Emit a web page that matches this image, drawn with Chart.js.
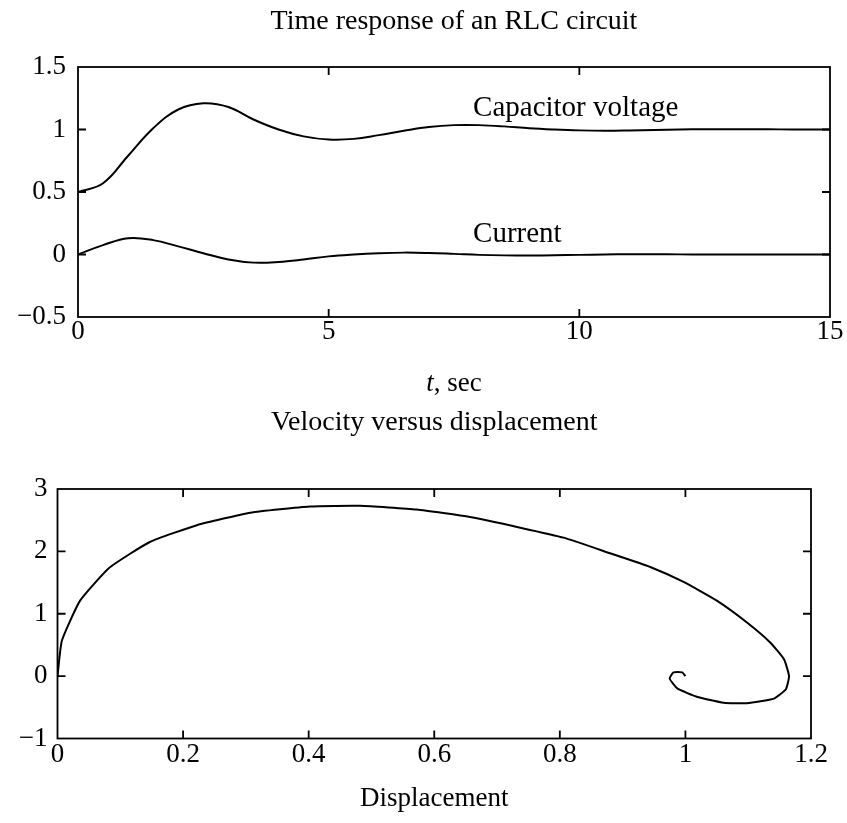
<!DOCTYPE html>
<html lang="en">
<head>
  <meta charset="UTF-8" />
  <title>RLC circuit - time response and phase plane</title>
  <script src="https://cdn.jsdelivr.net/npm/chart.js"></script>
  <style>
    * { box-sizing: border-box; margin: 0; padding: 0; }
    body { width: 847px; height: 823px; background: #fff; position: relative; overflow: hidden; }
    .panel { position: absolute; left: 0; width: 847px; }
    #topPanel { top: 0; height: 400px; }
    #bottomPanel { top: 400px; height: 423px; }
  </style>
</head>
<body>

<div class="panel" id="topPanel"><canvas id="rlcChart"></canvas></div>
<div class="panel" id="bottomPanel"><canvas id="phaseChart"></canvas></div>

<script>
  // top panel: time response, every 0.5 s
  const timeSec = [0, 0.5, 1, 1.5, 2, 2.5, 3, 3.5, 4, 4.5, 5, 5.5, 6, 6.5, 7, 7.5,
                   8, 8.5, 9, 9.5, 10, 10.5, 11, 11.5, 12, 12.5, 13, 13.5, 14, 14.5, 15];
  const capVoltage = [0.50, 0.57, 0.79, 1.01, 1.16, 1.21, 1.18, 1.08, 1.00, 0.945, 0.92,
                      0.925, 0.955, 0.99, 1.02, 1.035, 1.035, 1.025, 1.01, 1.0, 0.993,
                      0.99, 0.992, 0.996, 1.0, 1.002, 1.003, 1.002, 1.001, 1.0, 1.0];
  const current = [0, 0.075, 0.13, 0.115, 0.065, 0.01, -0.04, -0.065, -0.06, -0.04, -0.015,
                   0.0, 0.01, 0.015, 0.012, 0.005, -0.003, -0.007, -0.008, -0.006, -0.003,
                   0, 0.002, 0.002, 0.001, 0, 0, 0, 0, 0, 0];
  const timeTicks = [0, 5, 10, 15];
  const responseTicks = [-0.5, 0, 0.5, 1, 1.5];

  const curveNames = ['Capacitor voltage', 'Current'];
  const nameAtTime = [7.88, 7.88];
  const nameAtValue = [1.11, 0.10];

  // bottom panel: phase plane (solver output points)
  const displacement = [0, 0.007, 0.036, 0.083, 0.147, 0.222, 0.307, 0.402, 0.482, 0.572,
                        0.657, 0.737, 0.806, 0.88, 0.944, 0.997, 1.05, 1.098, 1.135, 1.157,
                        1.165, 1.160, 1.141, 1.098, 1.061, 1.018, 0.987, 0.975, 0.981, 0.995, 1.0];
  const velocity = [0, 0.57, 1.21, 1.74, 2.15, 2.42, 2.62, 2.72, 2.73, 2.67,
                    2.55, 2.38, 2.22, 1.97, 1.75, 1.51, 1.21, 0.86, 0.54, 0.27,
                    0.0, -0.21, -0.36, -0.435, -0.427, -0.33, -0.197, -0.04, 0.06, 0.06, 0.0];
  const dispTicks = [0, 0.2, 0.4, 0.6, 0.8, 1, 1.2];
  const velTicks = [-1, 0, 1, 2, 3];

  const SERIF = '"Liberation Serif", "Times New Roman", serif';
  Chart.defaults.font.family = SERIF;
  Chart.defaults.color = '#000';

  function fmt(v) {
    return String(+v.toFixed(3)).replace('-', '\u2212');
  }

  function points(xs, ys) {
    return xs.map((x, i) => ({ x: x, y: ys[i] }));
  }

  // frame round the plot area with inward ticks on all four sides
  const frameTicks = {
    id: 'frameTicks',
    afterDatasetsDraw(chart) {
      const { ctx, chartArea: a, scales: { x, y } } = chart;
      const len = 8;
      ctx.save();
      ctx.strokeStyle = '#000';
      ctx.lineWidth = 1.8;
      ctx.strokeRect(a.left, a.top, a.right - a.left, a.bottom - a.top);
      ctx.beginPath();
      x.ticks.forEach(t => {
        if (t.value <= x.min || t.value >= x.max) return;
        const px = x.getPixelForValue(t.value);
        ctx.moveTo(px, a.bottom); ctx.lineTo(px, a.bottom - len);
        ctx.moveTo(px, a.top); ctx.lineTo(px, a.top + len);
      });
      y.ticks.forEach(t => {
        if (t.value <= y.min || t.value >= y.max) return;
        const py = y.getPixelForValue(t.value);
        ctx.moveTo(a.left, py); ctx.lineTo(a.left + len, py);
        ctx.moveTo(a.right, py); ctx.lineTo(a.right - len, py);
      });
      ctx.stroke();
      ctx.restore();
    }
  };

  // x axis caption, allows an italic part
  const caption = {
    id: 'caption',
    afterDraw(chart, args, opts) {
      if (!opts.parts) return;
      const { ctx, chartArea: a } = chart;
      ctx.save();
      ctx.fillStyle = '#000';
      ctx.textBaseline = 'alphabetic';
      ctx.textAlign = 'left';
      const fonts = opts.parts.map(p => (p.italic ? 'italic ' : '') + opts.size + 'px ' + SERIF);
      const widths = opts.parts.map((p, i) => { ctx.font = fonts[i]; return ctx.measureText(p.text).width; });
      const total = widths.reduce((s, w) => s + w, 0);
      let x = (a.left + a.right) / 2 - total / 2;
      opts.parts.forEach((p, i) => {
        ctx.font = fonts[i];
        ctx.fillText(p.text, x, a.bottom + opts.offset);
        x += widths[i];
      });
      ctx.restore();
    }
  };

  // curve names written inside the plot at data positions
  const curveLabels = {
    id: 'curveLabels',
    afterDatasetsDraw(chart, args, opts) {
      if (!opts.names) return;
      const { ctx, scales: { x, y } } = chart;
      ctx.save();
      ctx.fillStyle = '#000';
      ctx.font = opts.size + 'px ' + SERIF;
      ctx.textBaseline = 'alphabetic';
      ctx.textAlign = 'left';
      opts.names.forEach((n, i) => {
        ctx.fillText(n, x.getPixelForValue(opts.xs[i]), y.getPixelForValue(opts.ys[i]));
      });
      ctx.restore();
    }
  };

  function axis(min, max, tickList, opts) {
    return {
      type: 'linear',
      min: min,
      max: max,
      grid: { display: false, drawTicks: false },
      border: { display: false },
      afterBuildTicks: s => { s.ticks = tickList.map(v => ({ value: v })); },
      afterFit: s => {
        if (opts.width) s.width = opts.width;
        if (opts.height) s.height = opts.height;
      },
      ticks: {
        autoSkip: false,
        maxRotation: 0,
        padding: opts.pad,
        color: '#000',
        font: { size: 27, lineHeight: 1 },
        callback: v => fmt(v)
      }
    };
  }

  function lineSet(data, tension) {
    return {
      data: data,
      showLine: true,
      borderColor: '#000',
      borderWidth: 2,
      pointRadius: 0,
      fill: false,
      tension: tension
    };
  }

  function renderResponseChart() {
    const ctx = document.getElementById('rlcChart').getContext('2d');
    new Chart(ctx, {
      type: 'scatter',
      data: {
        datasets: [
          lineSet(points(timeSec, capVoltage), 0.4),
          lineSet(points(timeSec, current), 0.4)
        ]
      },
      options: {
        responsive: true,
        maintainAspectRatio: false,
        animation: false,
        layout: { padding: { left: 0, right: 17, top: 0, bottom: 0 } },
        scales: {
          x: axis(0, 15, timeTicks, { height: 83, pad: 1.5 }),
          y: axis(-0.5, 1.5, responseTicks, { width: 78, pad: 12 })
        },
        plugins: {
          legend: { display: false },
          tooltip: { enabled: false },
          title: {
            display: true,
            fullSize: false,
            text: 'Time response of an RLC circuit',
            color: '#000',
            font: { size: 28, weight: 'normal' },
            padding: { top: 4.7, bottom: 28.7 }
          },
          caption: { parts: [{ text: 't', italic: true }, { text: ', sec' }], size: 27, offset: 74 },
          curveLabels: { names: curveNames, xs: nameAtTime, ys: nameAtValue, size: 29 }
        }
      },
      plugins: [frameTicks, caption, curveLabels]
    });
  }

  function renderPhaseChart() {
    const ctx = document.getElementById('phaseChart').getContext('2d');
    new Chart(ctx, {
      type: 'scatter',
      data: {
        datasets: [lineSet(points(displacement, velocity), 0.15)]
      },
      options: {
        responsive: true,
        maintainAspectRatio: false,
        animation: false,
        layout: { padding: { left: 0, right: 36, top: 0, bottom: 0 } },
        scales: {
          x: axis(0, 1.2, dispTicks, { height: 84.5, pad: 2.5 }),
          y: axis(-1, 3, velTicks, { width: 57.5, pad: 10 })
        },
        plugins: {
          legend: { display: false },
          tooltip: { enabled: false },
          title: {
            display: true,
            fullSize: false,
            text: 'Velocity versus displacement',
            color: '#000',
            font: { size: 28, weight: 'normal' },
            padding: { top: 5.7, bottom: 49.7 }
          },
          caption: { parts: [{ text: 'Displacement' }], size: 27, offset: 67.5 }
        }
      },
      plugins: [frameTicks, caption]
    });
  }

  renderResponseChart();
  renderPhaseChart();
</script>

</body>
</html>
